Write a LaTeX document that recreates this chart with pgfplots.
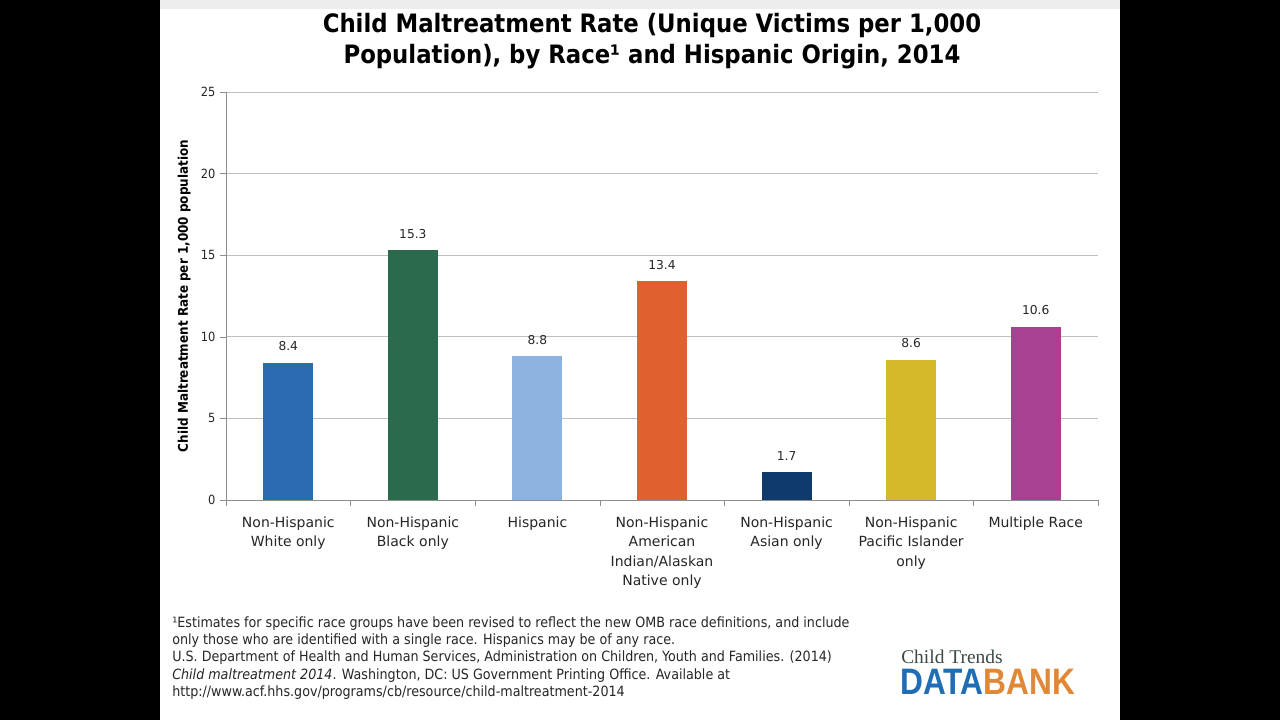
\documentclass[border=0pt]{standalone}
\usepackage{fontspec}
\setmainfont{DejaVu Sans}
\newfontfamily\condfont{DejaVu Sans Condensed}
\newfontfamily\logoserif{Liberation Serif}
\newfontfamily\logosans{Liberation Sans}
\usepackage{graphicx}
\usepackage{pgfplots}
\pgfplotsset{compat=1.18}

\definecolor{cWhite}{HTML}{2B6BB2}
\definecolor{cBlack}{HTML}{2C6A4E}
\definecolor{cHisp}{HTML}{8DB3E0}
\definecolor{cAIAN}{HTML}{E0602F}
\definecolor{cAsian}{HTML}{0F3A6C}
\definecolor{cPI}{HTML}{D5B92B}
\definecolor{cMulti}{HTML}{A8418F}
\definecolor{gridgray}{HTML}{BFBFBF}
\definecolor{axisgray}{HTML}{8C8C8C}
\definecolor{logoblue}{HTML}{1F6DB5}
\definecolor{logoorange}{HTML}{E08836}
\definecolor{logogreen}{HTML}{3C4A46}

\begin{document}
\begin{tikzpicture}
\begin{scope}[x=0.75pt,y=-0.75pt]
  % page: dark margins with a white slide in the middle
  \fill[black] (0,0) rectangle (1280,720);
  \fill[white] (160,0) rectangle (1120,720);
  \fill[black!7] (160,0) rectangle (1120,9);
  % title
  \node[align=center, font=\condfont\bfseries\fontsize{19}{23.2}\selectfont, text=black]
    at (652,41) {Child Maltreatment Rate (Unique Victims per 1,000\\Population), by Race¹ and Hispanic Origin, 2014};
  % notes and source
  \node[anchor=north west, align=left, inner sep=0pt,
        font=\condfont\fontsize{10.6}{13.1}\selectfont, text=black!85]
    at (172,616) {¹Estimates for specific race groups have been revised to reflect the new OMB race definitions, and include\\
    only those who are identified with a single race. Hispanics may be of any race.\\
    U.S. Department of Health and Human Services, Administration on Children, Youth and Families. (2014)\\
    \textit{Child maltreatment 2014}. Washington, DC: US Government Printing Office. Available at\\
    http://www.acf.hhs.gov/programs/cb/resource/child-maltreatment-2014};
  % logo
  \node[anchor=base west, inner sep=0pt, text=logogreen] at (901,663)
    {\resizebox{76pt}{!}{\logoserif Child Trends}};
  \node[anchor=base west, inner sep=0pt] at (900,694)
    {\resizebox{131pt}{19pt}{\logosans\bfseries\textcolor{logoblue}{DATA}\textcolor{logoorange}{BANK}}};
\end{scope}

\begin{axis}[
  at={(169.5pt,-375pt)}, anchor=south west,
  scale only axis, width=654pt, height=306pt,
  xmin=-0.5, xmax=6.5, ymin=0, ymax=25,
  axis x line=bottom, axis y line=left,
  axis line style={-, draw=axisgray},
  ytick={0,5,...,25},
  ymajorgrids, grid style={draw=gridgray, line width=0.6pt},
  tick align=outside,
  major tick length=4.5pt, minor tick length=4.5pt,
  tick style={draw=axisgray},
  xtick={0,...,6}, major x tick style={draw=none},
  minor xtick={-0.5,0.5,...,6.5},
  xticklabels={Non-Hispanic\\White only, Non-Hispanic\\Black only, Hispanic,
    Non-Hispanic\\American\\Indian/Alaskan\\Native only, Non-Hispanic\\Asian only,
    Non-Hispanic\\Pacific Islander\\only, Multiple Race},
  xticklabel style={align=center, font=\fontsize{10.5}{14.6}\selectfont, text=black!85, yshift=-4.5pt},
  yticklabel style={font=\condfont\fontsize{9.5}{11}\selectfont, text=black!85},
  /pgf/number format/assume math mode=true,
  ylabel={Child Maltreatment Rate per 1,000 population},
  ylabel style={at={(axis description cs:-0.048,0.5)}, anchor=center,
    font=\condfont\bfseries\fontsize{10}{11}\selectfont, text=black},
  ybar, bar width=37.5pt,
  nodes near coords,
  nodes near coords style={font=\fontsize{9.2}{11}\selectfont, text=black!85, yshift=5.5pt},
  clip=false,
]
\addplot[bar shift=0pt, fill=cWhite, draw=none] coordinates {(0,8.4)};
\addplot[bar shift=0pt, fill=cBlack, draw=none] coordinates {(1,15.3)};
\addplot[bar shift=0pt, fill=cHisp, draw=none] coordinates {(2,8.8)};
\addplot[bar shift=0pt, fill=cAIAN, draw=none] coordinates {(3,13.4)};
\addplot[bar shift=0pt, fill=cAsian, draw=none] coordinates {(4,1.7)};
\addplot[bar shift=0pt, fill=cPI, draw=none] coordinates {(5,8.6)};
\addplot[bar shift=0pt, fill=cMulti, draw=none] coordinates {(6,10.6)};
\end{axis}
\end{tikzpicture}
\end{document}
